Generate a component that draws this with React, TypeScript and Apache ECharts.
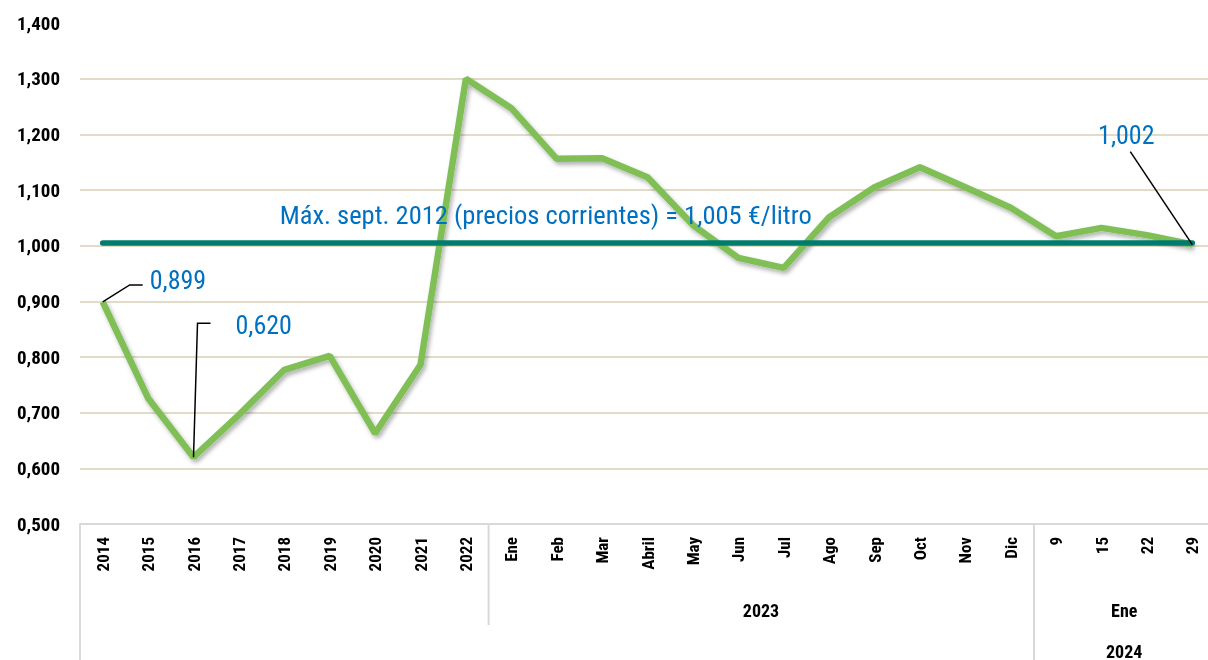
import React, { useEffect, useRef } from "react";
import * as echarts from "echarts";

const categories = [
  "2014", "2015", "2016", "2017", "2018", "2019", "2020", "2021", "2022",
  "Ene", "Feb", "Mar", "Abril", "May", "Jun", "Jul", "Ago", "Sep", "Oct", "Nov", "Dic",
  "9", "15", "22", "29",
];
const prices = [
  0.899, 0.726, 0.620, 0.696, 0.777, 0.802, 0.663, 0.786, 1.300,
  1.247, 1.156, 1.157, 1.123, 1.037, 0.978, 0.960, 1.051, 1.105, 1.141, 1.105, 1.068,
  1.017, 1.032, 1.019, 1.002,
];
const maxSept2012 = 1.005;
const maxLabel = "Máx. sept. 2012 (precios corrientes) = 1,005 €/litro";
const yMin = 0.5;
const yMax = 1.4;
const yStep = 0.1;
const groupLabels = [
  { text: "2023", from: 9, to: 20, row: 0 },
  { text: "Ene", from: 21, to: 24, row: 0 },
  { text: "2024", from: 21, to: 24, row: 1 },
];
const groupStarts = [0, 21];
const subGroupStarts = [9];
const annotated = [
  { index: 0, text: "0,899" },
  { index: 2, text: "0,620" },
  { index: 24, text: "1,002" },
];

const FONT = "'Roboto Condensed', 'Liberation Sans Narrow', 'DejaVu Sans Condensed', Roboto, sans-serif";
const BLUE = "#0070c0";
const GREEN = "#7fbf56";
const TEAL = "#007c6e";
const GRID = "#d6d0b6";
const AXIS = "#d9d9d9";

export default function App() {
  const ref = useRef<HTMLDivElement>(null);
  useEffect(() => {
    if (!ref.current) return;
    const chart = echarts.init(ref.current, undefined, { renderer: "svg" });
    const fmt = (v: number) => v.toFixed(3).replace(".", ",");
    chart.setOption({
      animation: false,
      textStyle: { fontFamily: FONT },
      grid: { left: 80, top: 23, width: 1135, height: 501, outerBoundsMode: "none", containLabel: false },
      xAxis: {
        type: "category",
        data: categories,
        position: "bottom",
        boundaryGap: true,
        axisLine: { show: true, lineStyle: { color: AXIS, width: 2 } },
        axisTick: {
          show: true,
          interval: (i: number) => groupStarts.includes(i),
          length: 136,
          lineStyle: { color: AXIS, width: 2 },
        },
        axisLabel: {
          interval: 0,
          rotate: 90,
          margin: 13,
          color: "#000",
          fontWeight: "bold",
          fontSize: 17,
          fontFamily: FONT,
        },
      },
      yAxis: {
        type: "value",
        min: yMin,
        max: yMax,
        interval: yStep,
        axisLine: { show: false },
        axisTick: { show: false },
        axisLabel: {
          formatter: fmt,
          margin: 20,
          color: "#000",
          fontWeight: "bold",
          fontSize: 19,
          fontFamily: FONT,
        },
        splitLine: { show: true, showMaxLine: false, showMinLine: false, lineStyle: { color: GRID, width: 1.5 } },
      },
      series: [
        {
          type: "line",
          data: prices,
          symbol: "none",
          z: 2,
          lineStyle: {
            color: GREEN,
            width: 6.5,
            shadowColor: "rgba(0,0,0,0.3)",
            shadowBlur: 4,
            shadowOffsetX: 2,
            shadowOffsetY: 3,
          },
        },
        {
          type: "line",
          data: [
            [categories[0], maxSept2012],
            [categories[categories.length - 1], maxSept2012],
          ],
          symbol: "none",
          z: 3,
          lineStyle: { color: TEAL, width: 5.5, cap: "round" },
        },
      ],
    });

    const px = (i: number, v: number) => chart.convertToPixel({ seriesIndex: 0 }, [i, v]) as number[];
    const graphics: any[] = [];
    const txt = (x: number, y: number, text: string, align: string, size: number) => ({
      type: "text",
      x, y, z: 10,
      style: { text, fill: BLUE, font: `${size}px ${FONT}`, align, verticalAlign: "middle" },
    });
    const leader = (points: number[][]) => ({
      type: "polyline", z: 9,
      shape: { points },
      style: { stroke: "#000", lineWidth: 1.5, fill: "none" },
    });
    annotated.forEach((a) => {
      const [x, y] = px(a.index, prices[a.index]);
      if (a.index === 0) {
        graphics.push(leader([[x, y], [x + 27, y - 17], [x + 40, y - 17]]));
        graphics.push(txt(x + 47, y - 22, a.text, "left", 26));
      } else if (a.index === 2) {
        graphics.push(leader([[x, y], [x + 4, y - 134], [x + 17, y - 134]]));
        graphics.push(txt(x + 42, y - 132, a.text, "left", 26));
      } else {
        graphics.push(leader([[x - 62, y - 93], [x, y]]));
        graphics.push(txt(x - 66, y - 110, a.text, "center", 26));
      }
    });
    const [mx0, my] = px(0, maxSept2012);
    graphics.push(txt(mx0 + 177, my - 28, maxLabel, "left", 26.5));

    const bottomY = px(0, yMin)[1];
    subGroupStarts.forEach((i) => {
      const x = (px(i - 1, yMin)[0] + px(i, yMin)[0]) / 2;
      graphics.push({
        type: "line", z: 1,
        shape: { x1: x, y1: bottomY, x2: x, y2: bottomY + 101 },
        style: { stroke: AXIS, lineWidth: 2 },
      });
    });
    groupLabels.forEach((g) => {
      const x = (px(g.from, yMin)[0] + px(g.to, yMin)[0]) / 2;
      const y = bottomY + 86 + g.row * 41;
      graphics.push({
        type: "text", x, y,
        style: { text: g.text, fill: "#000", font: `bold 18px ${FONT}`, align: "center", verticalAlign: "middle" },
      });
    });
    chart.setOption({ graphic: graphics });

    return () => chart.dispose();
  }, []);
  return <div ref={ref} style={{ position: "fixed", left: 0, top: 0, width: 1208, height: 660 }} />;
}
